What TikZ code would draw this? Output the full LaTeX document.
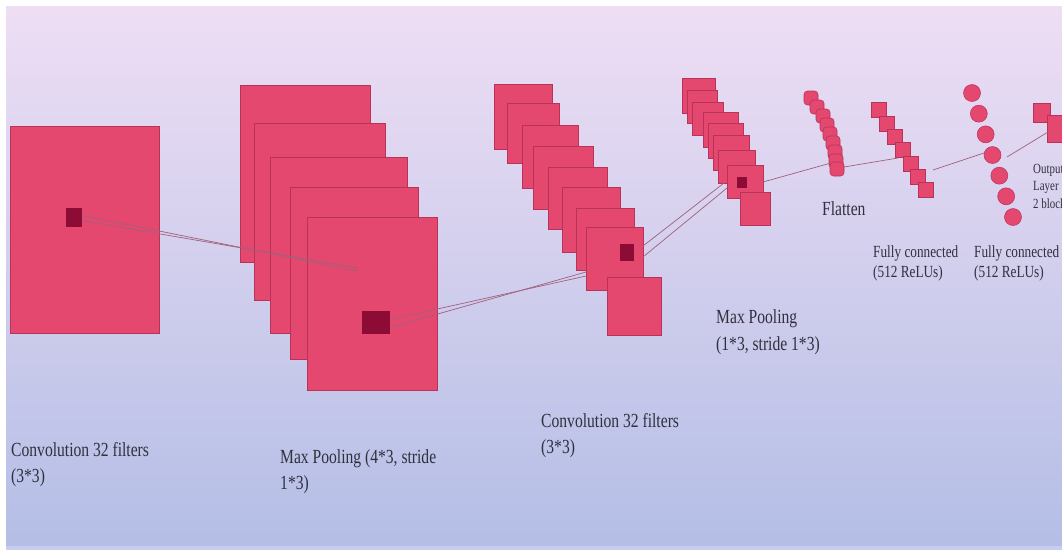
\documentclass[tikz,border=0pt]{standalone}
\usepackage{fontspec}
\setmainfont{Liberation Serif}[FakeStretch=0.78]
\definecolor{mapfill}{RGB}{228,72,111}
\definecolor{mapedge}{RGB}{184,50,90}
\definecolor{darkfill}{RGB}{140,12,54}
\definecolor{linkcol}{RGB}{160,96,124}
\definecolor{txt}{RGB}{48,48,62}
\definecolor{bgtop}{RGB}{238,222,244}
\definecolor{bgmid}{RGB}{221,214,239}
\definecolor{bgbot}{RGB}{180,190,230}
\definecolor{bgedge}{RGB}{200,206,236}
% feature map drawn from its top-left to its bottom-right corner
\newcommand\mapnode[6][fmap]{%
  \node[#1, anchor=north west, minimum width={(#5-#3)*1pt},
        minimum height={(#6-#4)*1pt}] (#2) at (#3,#4) {};}
\begin{document}
\begin{tikzpicture}[x=1pt,y=-1pt,
  fmap/.style={fill=mapfill, draw=mapedge, line width=0.6pt, inner sep=0pt, outer sep=0pt},
  kern/.style={fill=darkfill, draw=none, inner sep=0pt, outer sep=0pt},
  unitsq/.style={fmap, minimum size=15pt},
  flatsq/.style={fmap, rounded corners=3.5pt, minimum size=14pt},
  neuron/.style={circle, fill=mapfill, draw=mapedge, line width=0.5pt, inner sep=0pt, minimum size=17pt},
  link/.style={draw=linkcol, line width=0.7pt},
  lbl/.style={anchor=base west, inner sep=0pt, text=txt, font=\fontsize{20}{24}\selectfont},
  slbl/.style={lbl, font=\fontsize{17}{20}\selectfont},
  tlbl/.style={lbl, font=\fontsize{14}{17}\selectfont}]
\useasboundingbox (0,0) rectangle (1062,552);
\fill[white] (0,0) rectangle (1062,552);
\shade[top color=bgtop, middle color=bgmid, bottom color=bgbot] (6,6) rectangle (1062,546);
\fill[bgedge] (6,546) rectangle (1062,550);

% first convolution
\mapnode{c1}{10}{126}{159}{333}
\mapnode[kern]{c1k}{66}{208}{82}{227}

% first max pooling stack
\mapnode{p1a}{240}{85}{370}{262}
\mapnode{p1b}{254}{123}{385}{300}
\mapnode{p1c}{270}{157}{407}{333}
\mapnode{p1d}{290}{187}{418}{359}
\mapnode{p1e}{307}{217}{437}{390}
\mapnode[kern]{p1k}{362}{311}{390}{334}
\coordinate (p1in1) at (358,268);
\coordinate (p1in2) at (358,271);
\draw[link] ([yshift=-3pt]c1k.east) -- (p1in1);
\draw[link] ([yshift=2pt]c1k.east) -- (p1in2);

% second convolution stack
\mapnode{c2a}{494}{84}{552}{149}
\mapnode{c2b}{507}{103}{559}{163}
\mapnode{c2c}{522}{125}{578}{188}
\mapnode{c2d}{533}{146}{593}{209}
\mapnode{c2e}{548}{167}{607}{229}
\mapnode{c2f}{562}{187}{620}{252}
\mapnode{c2g}{576}{208}{634}{270}
\mapnode{c2h}{586}{227}{643}{290}
\mapnode{c2i}{607}{277}{661}{335}
\mapnode[kern]{c2k}{620}{244}{634}{261}
\coordinate (c2in1) at (586,272);
\coordinate (c2in2) at (586,276);
\draw[link] ([yshift=-5pt]p1k.east) -- (c2in1);
\draw[link] ([yshift=3pt]p1k.east) -- (c2in2);

% second max pooling stack
\mapnode{p2a}{682}{78}{715}{113}
\mapnode{p2b}{687}{90}{717}{123}
\mapnode{p2c}{692}{102}{723}{135}
\mapnode{p2d}{703}{112}{738}{147}
\mapnode{p2e}{708}{123}{743}{158}
\mapnode{p2f}{713}{135}{749}{170}
\mapnode{p2g}{718}{150}{755}{183}
\mapnode{p2h}{727}{165}{763}{198}
\mapnode{p2i}{740}{192}{770}{225}
\mapnode[kern]{p2k}{737}{177}{747}{188}
\coordinate (c2out1) at (643,246);
\coordinate (c2out2) at (643,257);
\coordinate (p2in1) at (724,183);
\coordinate (p2in2) at (727,188);
\draw[link] (c2out1) -- (p2in1);
\draw[link] (c2out2) -- (p2in2);

% flatten
\foreach \i/\px/\py in {1/811/98, 2/817/107, 3/823/116, 4/827/125, 5/830/134,
                        6/833/143, 7/835/152, 8/836/161, 9/837/169}
  \node[flatsq] (f\i) at (\px,\py) {};

% first dense layer
\foreach \i in {1,...,7}
  \node[unitsq] (d\i) at ({879+(\i-1)*7.83},{110+(\i-1)*13.33}) {};

% second dense layer
\foreach \i in {1,...,7}
  \node[neuron] (n\i) at ({972+(\i-1)*6.83},{93+(\i-1)*20.67}) {};

% output layer
\mapnode{o1}{1033}{103}{1050}{122}
\mapnode{o2}{1047}{115}{1068}{142}

% connections through the dense part
\coordinate (p2out) at (763,182);
\coordinate (fin) at (831,163);
\coordinate (fout) at (844,167);
\coordinate (din) at (898,158);
\coordinate (dout) at (933,170);
\coordinate (nin) at (987,152);
\coordinate (nout) at (1007,157);
\coordinate (oin) at (1048,132);
\draw[link] (p2out) -- (fin);
\draw[link] (fout) -- (din);
\draw[link] (dout) -- (nin);
\draw[link] (nout) -- (oin);

% labels
\node[lbl] (t1a) at (11,456) {Convolution 32 filters};
\node[lbl] (t1b) at (11,482) {(3*3)};
\node[lbl] (t2a) at (280,463) {Max Pooling (4*3, stride};
\node[lbl] (t2b) at (280,489) {1*3)};
\node[lbl] (t3a) at (541,427) {Convolution 32 filters};
\node[lbl] (t3b) at (541,453) {(3*3)};
\node[lbl] (t4a) at (716,323) {Max Pooling};
\node[lbl] (t4b) at (716,350) {(1*3, stride 1*3)};
\node[lbl] (t5) at (822,215) {Flatten};
\node[slbl] (t6a) at (873,257) {Fully connected};
\node[slbl] (t6b) at (873,277) {(512 ReLUs)};
\node[slbl] (t7a) at (974,257) {Fully connected};
\node[slbl] (t7b) at (974,277) {(512 ReLUs)};
\node[tlbl] (t8a) at (1033,173) {Output};
\node[tlbl] (t8b) at (1033,190) {Layer};
\node[tlbl] (t8c) at (1033,208) {2 blocks};
\end{tikzpicture}
\end{document}
